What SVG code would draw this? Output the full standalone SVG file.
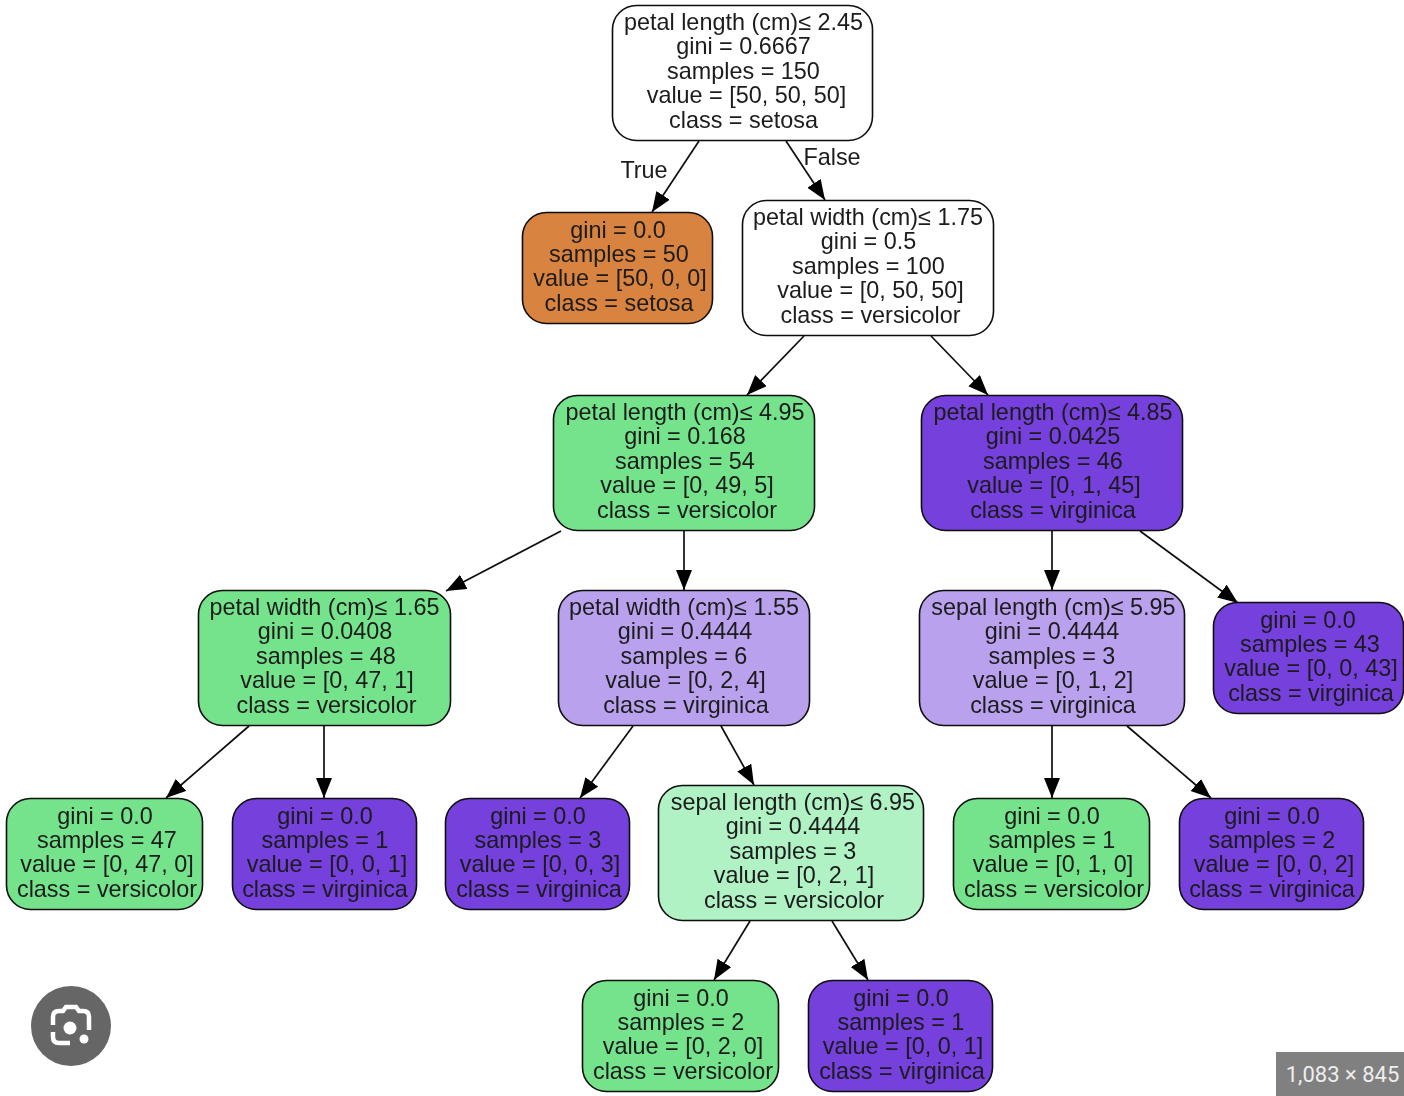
<svg xmlns="http://www.w3.org/2000/svg" width="1404" height="1096" viewBox="0 0 1404 1096">
<style>
.n{stroke:#111;stroke-width:1.6}
.w{fill:#fff}.o{fill:#d8833f}.g{fill:#74e38b}.p{fill:#743fdb}.lp{fill:#b9a1ed}.lg{fill:#b0f2c4}
text{font-family:"Liberation Sans",Arial,sans-serif;font-size:23.4px;fill:#1a1a1a;text-anchor:middle}
.e line{stroke:#111;stroke-width:1.7;marker-end:url(#a)}
.s{filter:url(#b)}
</style>
<defs><marker id="a" markerUnits="userSpaceOnUse" markerWidth="22" markerHeight="18" refX="20" refY="8" orient="auto"><path d="M0 0L20 8L0 16Z" fill="#000"/></marker>
<filter id="b" x="-5%" y="-5%" width="110%" height="110%"><feGaussianBlur stdDeviation="0.35"/></filter></defs>
<rect width="1404" height="1096" fill="#fff"/>
<g id="connectors" class="e s">
<line x1="699" y1="141" x2="652" y2="212"/>
<line x1="786" y1="141" x2="825" y2="200"/>
<line x1="804" y1="336" x2="747" y2="395"/>
<line x1="931" y1="336" x2="988" y2="395"/>
<line x1="561" y1="531" x2="446" y2="591"/>
<line x1="684" y1="531" x2="684" y2="590"/>
<line x1="1052" y1="531" x2="1052" y2="590"/>
<line x1="1140" y1="531" x2="1238" y2="603"/>
<line x1="249" y1="726" x2="166" y2="798"/>
<line x1="324" y1="726" x2="324" y2="798"/>
<line x1="633" y1="726" x2="580" y2="798"/>
<line x1="721" y1="726" x2="754" y2="785"/>
<line x1="1052" y1="726" x2="1052" y2="798"/>
<line x1="1127" y1="726" x2="1211" y2="798"/>
<line x1="750" y1="921" x2="714" y2="980"/>
<line x1="832" y1="921" x2="868" y2="980"/>
<text x="644" y="178">True</text>
<text x="832" y="165">False</text>
</g>
<g id="n0" class="s"><rect class="n w" x="612.5" y="5.5" width="260" height="135" rx="24"/>
<text x="743.5" y="30">petal length (cm)≤ 2.45</text><text x="743.5" y="54">gini = 0.6667</text><text x="743.5" y="78.5">samples = 150</text><text x="746.5" y="103">value = [50, 50, 50]</text><text x="743.5" y="128">class = setosa</text></g>
<g id="n1" class="s"><rect class="n o" x="522.5" y="212.5" width="190" height="111" rx="24"/>
<text x="618" y="237.5">gini = 0.0</text><text x="619" y="261.5">samples = 50</text><text x="620" y="286">value = [50, 0, 0]</text><text x="619" y="310.5">class = setosa</text></g>
<g id="n2" class="s"><rect class="n w" x="742.5" y="200.5" width="251" height="135" rx="24"/>
<text x="868" y="225">petal width (cm)≤ 1.75</text><text x="868.5" y="249">gini = 0.5</text><text x="868.5" y="273.5">samples = 100</text><text x="870.5" y="298">value = [0, 50, 50]</text><text x="870.5" y="323">class = versicolor</text></g>
<g id="n3" class="s"><rect class="n g" x="553.5" y="395.5" width="261" height="135" rx="24"/>
<text x="685" y="420">petal length (cm)≤ 4.95</text><text x="685" y="444">gini = 0.168</text><text x="685" y="468.5">samples = 54</text><text x="687" y="493">value = [0, 49, 5]</text><text x="687" y="518">class = versicolor</text></g>
<g id="n4" class="s"><rect class="n p" x="921.5" y="395.5" width="261" height="135" rx="24"/>
<text x="1053" y="420">petal length (cm)≤ 4.85</text><text x="1053" y="444">gini = 0.0425</text><text x="1053" y="468.5">samples = 46</text><text x="1054" y="493">value = [0, 1, 45]</text><text x="1053" y="518">class = virginica</text></g>
<g id="n5" class="s"><rect class="n g" x="198.5" y="590.5" width="252" height="135" rx="24"/>
<text x="324.5" y="615">petal width (cm)≤ 1.65</text><text x="325" y="639">gini = 0.0408</text><text x="326" y="663.5">samples = 48</text><text x="327" y="688">value = [0, 47, 1]</text><text x="326.5" y="713">class = versicolor</text></g>
<g id="n6" class="s"><rect class="n lp" x="558.5" y="590.5" width="251" height="135" rx="24"/>
<text x="684" y="615">petal width (cm)≤ 1.55</text><text x="685" y="639">gini = 0.4444</text><text x="684" y="663.5">samples = 6</text><text x="685.5" y="688">value = [0, 2, 4]</text><text x="686" y="713">class = virginica</text></g>
<g id="n7" class="s"><rect class="n lp" x="919.5" y="590.5" width="265" height="135" rx="24"/>
<text x="1053.5" y="615">sepal length (cm)≤ 5.95</text><text x="1052" y="639">gini = 0.4444</text><text x="1052" y="663.5">samples = 3</text><text x="1053" y="688">value = [0, 1, 2]</text><text x="1053" y="713">class = virginica</text></g>
<g id="n8" class="s"><rect class="n p" x="1213.5" y="602.5" width="190" height="111" rx="24"/>
<text x="1308" y="627.5">gini = 0.0</text><text x="1310" y="651.5">samples = 43</text><text x="1311" y="676">value = [0, 0, 43]</text><text x="1311" y="700.5">class = virginica</text></g>
<g id="n9" class="s"><rect class="n g" x="6.5" y="798.5" width="196" height="111" rx="24"/>
<text x="105" y="823.5">gini = 0.0</text><text x="107" y="847.5">samples = 47</text><text x="107" y="872">value = [0, 47, 0]</text><text x="107" y="896.5">class = versicolor</text></g>
<g id="n10" class="s"><rect class="n p" x="232.5" y="798.5" width="184" height="111" rx="24"/>
<text x="325" y="823.5">gini = 0.0</text><text x="325" y="847.5">samples = 1</text><text x="327" y="872">value = [0, 0, 1]</text><text x="325" y="896.5">class = virginica</text></g>
<g id="n11" class="s"><rect class="n p" x="445.5" y="798.5" width="184" height="111" rx="24"/>
<text x="538" y="823.5">gini = 0.0</text><text x="538" y="847.5">samples = 3</text><text x="540" y="872">value = [0, 0, 3]</text><text x="539" y="896.5">class = virginica</text></g>
<g id="n12" class="s"><rect class="n lg" x="658.5" y="785.5" width="265" height="135" rx="24"/>
<text x="793" y="810">sepal length (cm)≤ 6.95</text><text x="793" y="834">gini = 0.4444</text><text x="793" y="858.5">samples = 3</text><text x="794" y="883">value = [0, 2, 1]</text><text x="794" y="908">class = versicolor</text></g>
<g id="n13" class="s"><rect class="n g" x="953.5" y="798.5" width="196" height="111" rx="24"/>
<text x="1052" y="823.5">gini = 0.0</text><text x="1052" y="847.5">samples = 1</text><text x="1053" y="872">value = [0, 1, 0]</text><text x="1054" y="896.5">class = versicolor</text></g>
<g id="n14" class="s"><rect class="n p" x="1179.5" y="798.5" width="184" height="111" rx="24"/>
<text x="1272" y="823.5">gini = 0.0</text><text x="1272" y="847.5">samples = 2</text><text x="1274" y="872">value = [0, 0, 2]</text><text x="1272" y="896.5">class = virginica</text></g>
<g id="n15" class="s"><rect class="n g" x="582.5" y="980.5" width="196" height="111" rx="24"/>
<text x="681" y="1005.5">gini = 0.0</text><text x="681" y="1029.5">samples = 2</text><text x="683" y="1054">value = [0, 2, 0]</text><text x="683" y="1078.5">class = versicolor</text></g>
<g id="n16" class="s"><rect class="n p" x="808.5" y="980.5" width="184" height="111" rx="24"/>
<text x="901" y="1005.5">gini = 0.0</text><text x="901" y="1029.5">samples = 1</text><text x="903" y="1054">value = [0, 0, 1]</text><text x="902" y="1078.5">class = virginica</text></g>
<circle cx="71" cy="1026" r="40" fill="#666"/>
<path d="M53 1032V1037Q53 1043 59 1043H70M53 1025V1017Q53 1011 59 1011H63L66 1007H76L79 1011H83Q89 1011 89 1017V1030" fill="none" stroke="#fff" stroke-width="4.5"/>
<circle cx="70" cy="1028" r="6.5" fill="#fff"/><circle cx="84" cy="1039" r="4.5" fill="#fff"/>
<rect x="1276" y="1052" width="128" height="44" fill="#808080"/>
<text x="1342.5" y="1082" style="font-family:Roboto,sans-serif;font-size:22px;fill:#eee">1,083 × 845</text>
</svg>
